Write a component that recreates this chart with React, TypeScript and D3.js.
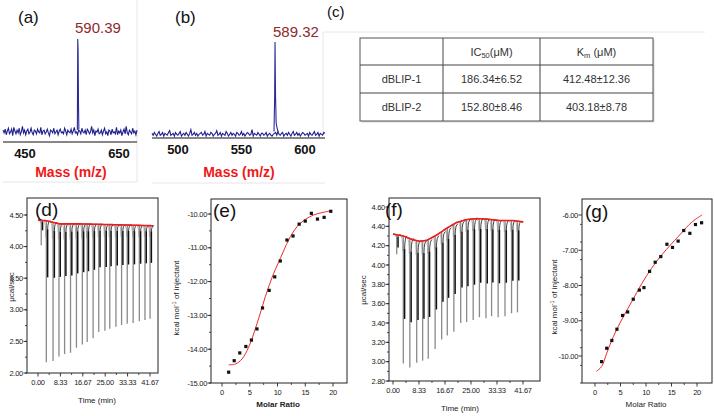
import { useEffect, useRef } from 'react';
import * as d3 from 'd3';

const W = 714;
const H = 416;
const FONT = '"Liberation Sans", Arial, sans-serif';

// ---- (a) mass spectrum: dBLIP-1
const massATicks = [450, 650];
const noiseA = [2, -1, 3, -3, 1, 4, -2, 0, 3, -4, 5, 1, -2, 2, -1, 4, -3, 0, 6, -1, 2, -3, 1, 3, -2, 0, 4, -1, -3, 2, 1, -2, 3, 0, -1, 5, -3, 1, 2, -2, 0, 3, -1, -4, 2, 1, -1, 4, -2, 0, 2, -3, 1, 3, -1, 0, -2, 4, 1, -3, 2, 0, -1, 3, -2, 1, 5, -1, 0, -3, 2, 1, -2, 4, 0, -1, 2, -3, 3, 1, -2, 0, 6, -1, 2, -4, 1, 0, 3, -2, -1, 2, -3, 1, 4, -2, 0, -4, 2, 1, -3, 3, -1, 0, -2, 5, -3, 1, -1, 2, -4, 0, 3, -2, 6, -1, -3, 2, 0, -2, 4, -1, 1, -3, 2];
const peakAMz = [561.4, 562.2, 563.0, 563.8, 564.6];
const peakAInt = [2, 100, 88, 30, 3];
const peakALabel = '590.39';

// ---- (b) mass spectrum: dBLIP-2
const massBTicks = [500, 550, 600];
const noiseB = [1, -1, 2, 0, -2, 1, 3, -1, 0, 2, -2, 1, 0, -1, 2, 4, -1, 0, 1, -2, 2, 0, -1, 1, 3, -2, 0, 1, -1, 2, 0, -2, 1, 5, -1, 0, 2, -1, 1, -2, 0, 1, 2, -1, 0, 3, -2, 1, 0, -1, 2, 1, -2, 0, 1, 4, -1, 0, 2, -2, 1, 0, -1, 3, 1, -2, 0, 2, -1, 1, 0, -2, 2, 1, -1, 0, 3, -1, 1, -2, 0, 2, 1, -1, 0, 5, -2, 1, 0, -1, 2, 0, -2, 1, 1, -1, 0, 2, -2, 0, 1, -1, -2, 0, 1, 2, -1, 3, 0, -1, 1, 2, -2, 0, 1, -1, 2, 0, -2, 1, 3, -1, 0, 2, -1, 1, -2, 0, 2, 1, -1, 0, 1, -2, 2, 0, -1, 1, 3, -1, 0, 2, -2, 1, 0, -1, 2, 1];
const peakBMz = [575.6, 576.1, 576.4, 576.8, 577.3, 578.0, 578.8];
const peakBInt = [3, 40, 100, 42, 12, 7, 3];
const peakBLabel = '589.32';

// ---- (c) table
const tableRows = ['dBLIP-1', 'dBLIP-2'];
const ic50 = ['186.34±6.52', '152.80±8.46'];
const km = ['412.48±12.36', '403.18±8.78'];

// ---- (d) ITC raw heat, dBLIP-1
const timeTicks = [0, 8.33, 16.67, 25, 33.33, 41.67];
const timeLabels = ['0.00', '8.33', '16.67', '25.00', '33.33', '41.67'];
const dTicksY = [2.0, 2.5, 3.0, 3.5, 4.0, 4.5];
const dInjT = [1.2, 3.1, 5.6, 7.8, 9.9, 12.1, 14.3, 16.5, 18.3, 20.5, 22.6, 24.9, 26.7, 29.0, 31.1, 33.2, 35.4, 37.7, 39.8, 41.7];
const dInjMin = [4.02, 2.17, 2.19, 2.26, 2.30, 2.32, 2.40, 2.45, 2.49, 2.55, 2.65, 2.67, 2.70, 2.73, 2.76, 2.78, 2.79, 2.82, 2.84, 2.86];
const dBaseT = [0, 3, 8, 15, 25, 43];
const dBaseV = [4.42, 4.41, 4.36, 4.36, 4.35, 4.33];

// ---- (e) ITC integrated, dBLIP-1
const ratioTicks = [0, 5, 10, 15, 20];
const eTicksY = [-15, -14, -13, -12, -11, -10];
const eX = [1.2, 2.2, 3.2, 4.3, 5.3, 6.3, 7.3, 8.5, 9.5, 10.5, 11.7, 12.8, 13.9, 15.0, 16.1, 17.2, 18.4, 19.6];
const eY = [-14.68, -14.34, -14.11, -13.92, -13.73, -13.40, -12.78, -12.26, -11.86, -11.39, -10.77, -10.65, -10.30, -10.21, -9.98, -10.15, -10.10, -9.92];
const eFitX = [1.2, 2.4, 3.6, 4.8, 6.3, 7.8, 9.3, 10.5, 12.0, 13.5, 15.0, 16.5, 18.0, 19.8];
const eFitY = [-14.46, -14.44, -14.29, -13.94, -13.25, -12.45, -11.76, -11.32, -10.77, -10.38, -10.16, -10.03, -9.96, -9.90];

// ---- (f) ITC raw heat, dBLIP-2
const fTicksY = [2.8, 3.0, 3.2, 3.4, 3.6, 3.8, 4.0, 4.2, 4.4, 4.6];
const fInjT = [1.2, 3.3, 5.4, 7.6, 9.5, 11.3, 13.5, 15.6, 17.4, 19.5, 21.7, 23.6, 25.7, 27.7, 29.8, 31.6, 33.7, 35.9, 38.0, 39.9];
const fInjMin = [4.11, 2.98, 2.94, 2.99, 3.01, 3.03, 3.13, 3.23, 3.27, 3.31, 3.40, 3.41, 3.43, 3.46, 3.45, 3.47, 3.46, 3.47, 3.50, 3.51];
const fBaseT = [0.1, 3.3, 6.5, 8.6, 10.8, 14.0, 17.2, 20.4, 23.6, 26.8, 30.0, 34.3, 38.6, 41.8];
const fBaseV = [4.32, 4.30, 4.26, 4.245, 4.255, 4.31, 4.38, 4.44, 4.47, 4.48, 4.475, 4.46, 4.46, 4.445];

// ---- (g) ITC integrated, dBLIP-2
const gTicksY = [-10, -9, -8, -7, -6];
const gX = [1.3, 2.3, 3.3, 4.3, 5.4, 6.4, 7.5, 8.7, 9.6, 10.7, 11.8, 12.9, 14.1, 15.2, 16.3, 17.4, 18.6, 19.7, 20.9];
const gY = [-10.16, -9.78, -9.56, -9.24, -8.85, -8.75, -8.39, -8.13, -8.06, -7.60, -7.34, -7.18, -6.83, -6.92, -6.74, -6.44, -6.52, -6.27, -6.22];
const gFitX = [0.3, 1.3, 2.3, 3.6, 5.2, 7.2, 9.2, 11.1, 13.1, 14.8, 16.4, 18.4, 19.7, 21.0];
const gFitY = [-10.43, -10.30, -9.92, -9.45, -8.98, -8.46, -7.94, -7.51, -7.13, -6.85, -6.60, -6.28, -6.12, -6.00];

type Sel = d3.Selection<SVGGElement, unknown, null, undefined>;

function label(g: Sel, x: number, y: number, txt: string, size: number) {
  g.append('text').attr('x', x).attr('y', y).attr('font-family', FONT)
    .attr('font-size', size).attr('fill', '#111').text(txt);
}

function drawSpectrum(g: Sel, o: {
  ticks: number[]; tickPx: [number, number]; tickVals: [number, number];
  left: number; right: number; axisY: number; topY: number; intMin: number;
  noise: number[]; peakMz: number[]; peakInt: number[]; peakLabel: string; labelX: number; labelY: number;
  titleX: number;
}) {
  const x = d3.scaleLinear().domain(o.tickVals).range(o.tickPx);
  const y = d3.scaleLinear().domain([o.intMin, 100]).range([o.axisY, o.topY]);
  const m0 = x.invert(o.left);
  const m1 = x.invert(o.right);
  const step = (m1 - m0) / (o.noise.length - 1);
  const line = d3.line<[number, number]>().x(d => x(d[0])).y(d => y(d[1]));
  g.append('path')
    .attr('d', line(o.noise.map((v, i) => [m0 + i * step, v] as [number, number])))
    .attr('fill', 'none').attr('stroke', '#1f1f8f').attr('stroke-width', 1.1);
  g.append('path')
    .attr('d', line(o.peakMz.map((m, i) => [m, o.peakInt[i]] as [number, number])))
    .attr('fill', 'none').attr('stroke', '#2a2a9a').attr('stroke-width', 1.1);
  g.append('line').attr('x1', o.left).attr('x2', o.right).attr('y1', o.axisY).attr('y2', o.axisY)
    .attr('stroke', '#111').attr('stroke-width', 1.2);
  o.ticks.forEach(t => {
    g.append('text').attr('x', x(t)).attr('y', o.axisY + 16).attr('text-anchor', 'middle')
      .attr('font-family', FONT).attr('font-weight', 'bold').attr('font-size', 13).attr('fill', '#111')
      .text(String(t));
  });
  g.append('text').attr('x', o.titleX).attr('y', 177).attr('text-anchor', 'middle')
    .attr('font-family', FONT).attr('font-weight', 'bold').attr('font-size', 14).attr('fill', '#f01818')
    .text('Mass (m/z)');
  g.append('text').attr('x', o.labelX).attr('y', o.labelY)
    .attr('font-family', FONT).attr('font-size', 15).attr('fill', '#8e2a2a').text(o.peakLabel);
}

function drawFrame(g: Sel, o: {
  left: number; right: number; top: number; bottom: number;
  x: d3.ScaleLinear<number, number>; y: d3.ScaleLinear<number, number>;
  xTicks: number[]; xLabels: string[]; yTicks: number[]; yMinorStep: number;
}) {
  g.append('rect').attr('x', o.left).attr('y', o.top).attr('width', o.right - o.left)
    .attr('height', o.bottom - o.top).attr('fill', 'none').attr('stroke', '#222').attr('stroke-width', 1);
  const [y0, y1] = o.y.domain();
  const minors = d3.range(y0, y1 + 1e-6, o.yMinorStep);
  const yTop = o.y.invert(o.top);
  minors.filter(v => v <= yTop).forEach(v => {
    g.append('line').attr('x1', o.left - 2).attr('x2', o.left).attr('y1', o.y(v)).attr('y2', o.y(v))
      .attr('stroke', '#222').attr('stroke-width', 0.8);
  });
  o.yTicks.forEach(v => {
    g.append('line').attr('x1', o.left - 3.5).attr('x2', o.left).attr('y1', o.y(v)).attr('y2', o.y(v))
      .attr('stroke', '#222').attr('stroke-width', 0.9);
    g.append('text').attr('x', o.left - 4).attr('y', o.y(v)).attr('dy', '0.35em').attr('text-anchor', 'end')
      .attr('font-family', FONT).attr('font-size', 7.5).attr('letter-spacing', -0.3).attr('fill', '#222')
      .text(v.toFixed(2));
  });
  o.xTicks.forEach((v, i) => {
    g.append('line').attr('x1', o.x(v)).attr('x2', o.x(v)).attr('y1', o.bottom).attr('y2', o.bottom + 3.5)
      .attr('stroke', '#222').attr('stroke-width', 0.9);
    if (i < o.xTicks.length - 1) {
      const mid = (v + o.xTicks[i + 1]) / 2;
      g.append('line').attr('x1', o.x(mid)).attr('x2', o.x(mid)).attr('y1', o.bottom).attr('y2', o.bottom + 2)
        .attr('stroke', '#222').attr('stroke-width', 0.8);
    }
    g.append('text').attr('x', o.x(v)).attr('y', o.bottom + 12).attr('text-anchor', 'middle')
      .attr('font-family', FONT).attr('font-size', 7.5).attr('letter-spacing', -0.3).attr('fill', '#222')
      .text(o.xLabels[i]);
  });
}

function axisTitle(g: Sel, x: number, y: number, txt: string, rotate: boolean, weight = 'normal') {
  const t = g.append('text').attr('text-anchor', 'middle').attr('font-family', FONT)
    .attr('font-size', 8).attr('font-weight', weight).attr('fill', '#222')
    .attr('transform', rotate ? `translate(${x},${y}) rotate(-90)` : `translate(${x},${y})`);
  t.text(txt);
}

function kcalTitle(g: Sel, x: number, y: number) {
  const t = g.append('text').attr('text-anchor', 'middle').attr('font-family', FONT)
    .attr('font-size', 8).attr('fill', '#222')
    .attr('transform', `translate(${x},${y}) rotate(-90)`);
  t.append('tspan').text('kcal mol');
  t.append('tspan').attr('font-size', 5.5).attr('dy', -3).text('-1');
  t.append('tspan').attr('dy', 3).text(' of injectant');
}

function drawRaw(g: Sel, x: d3.ScaleLinear<number, number>, y: d3.ScaleLinear<number, number>,
  injT: number[], injMin: number[], baseT: number[], baseV: number[], blk: [number, number], tEnd: number) {
  const base = d3.scaleLinear().domain(baseT).range(baseV).clamp(true);
  const line = d3.line<number>().x(t => x(t)).y(t => y(base(t)));
  g.append('path').attr('d', line(d3.range(0, tEnd, 0.25))).attr('fill', 'none')
    .attr('stroke', '#222').attr('stroke-width', 0.8);
  injT.forEach((t, i) => {
    const b = base(t);
    const depth = b - injMin[i];
    const px = x(t);
    g.append('path')
      .attr('d', `M${px - 2.5},${y(b)} Q${px - 0.7},${y(b)} ${px - 0.6},${y(b - 0.12 * depth)}`)
      .attr('fill', 'none').attr('stroke', '#999').attr('stroke-width', 0.7);
    g.append('line').attr('x1', px).attr('x2', px).attr('y1', y(b)).attr('y2', y(injMin[i]))
      .attr('stroke', '#8a8a8a').attr('stroke-width', 1.3);
    g.append('line').attr('x1', px + 1.3).attr('x2', px + 1.3)
      .attr('y1', y(b - blk[0] * depth)).attr('y2', y(b - blk[1] * depth))
      .attr('stroke', '#111').attr('stroke-width', 1.5);
    g.append('path')
      .attr('d', `M${px + 1.3},${y(b - blk[0] * depth)} Q${px + 1.6},${y(b)} ${px + 4},${y(b)}`)
      .attr('fill', 'none').attr('stroke', '#111').attr('stroke-width', 0.8);
  });
  g.append('path').attr('d', line(d3.range(0, tEnd, 0.25))).attr('fill', 'none')
    .attr('stroke', '#ee1c1c').attr('stroke-width', 1.6);
}

function drawFit(g: Sel, x: d3.ScaleLinear<number, number>, y: d3.ScaleLinear<number, number>,
  px: number[], py: number[], fx: number[], fy: number[]) {
  const line = d3.line<number>().x(d => x(d)).y((_, i) => y(fy[i])).curve(d3.curveCatmullRom);
  g.append('path').attr('d', line(fx)).attr('fill', 'none').attr('stroke', '#ee2a2a').attr('stroke-width', 1);
  px.forEach((v, i) => {
    g.append('rect').attr('x', x(v) - 1.6).attr('y', y(py[i]) - 1.6).attr('width', 3.2).attr('height', 3.2)
      .attr('fill', '#111');
  });
}

export default function App() {
  const ref = useRef<SVGSVGElement>(null);

  useEffect(() => {
    if (!ref.current) return;
    const svg = d3.select(ref.current);
    svg.selectAll('*').remove();
    const root = svg.append('g') as unknown as Sel;
    root.append('rect').attr('width', W).attr('height', H).attr('fill', '#fff');

    // faint panel borders from the source figure
    const faint = [[137, 0, 137, 182], [3, 182, 137, 182], [152, 183, 325, 183], [323, 32, 323, 135], [323, 32, 705, 32]];
    faint.forEach(([x1, y1, x2, y2]) => {
      root.append('line').attr('x1', x1).attr('y1', y1).attr('x2', x2).attr('y2', y2)
        .attr('stroke', '#e6e6e6').attr('stroke-width', 1);
    });

    // (a)
    drawSpectrum(root, {
      ticks: massATicks, tickVals: [450, 650], tickPx: [25, 119], left: 3, right: 137,
      axisY: 142, topY: 39, intMin: -10.8, noise: noiseA, peakMz: peakAMz, peakInt: peakAInt,
      peakLabel: peakALabel, labelX: 75, labelY: 33, titleX: 71,
    });
    label(root, 18, 23, '(a)', 17);

    // (b)
    drawSpectrum(root, {
      ticks: massBTicks, tickVals: [500, 600], tickPx: [178, 305], left: 152, right: 325,
      axisY: 138, topY: 42, intMin: -4, noise: noiseB, peakMz: peakBMz, peakInt: peakBInt,
      peakLabel: peakBLabel, labelX: 273, labelY: 37, titleX: 239,
    });
    label(root, 175, 23, '(b)', 17);

    // (c) table
    label(root, 327, 17, '(c)', 15);
    const colX = [360, 443, 540, 653];
    const rowY = [38, 65, 93, 121];
    root.append('rect').attr('x', colX[0] + 1.5).attr('y', rowY[0] + 1.5).attr('width', colX[3] - colX[0])
      .attr('height', rowY[3] - rowY[0]).attr('fill', '#d8d8d8');
    root.append('rect').attr('x', colX[0]).attr('y', rowY[0]).attr('width', colX[3] - colX[0])
      .attr('height', rowY[3] - rowY[0]).attr('fill', '#fff').attr('stroke', '#555').attr('stroke-width', 1);
    [colX[1], colX[2]].forEach(cx => {
      root.append('line').attr('x1', cx).attr('x2', cx).attr('y1', rowY[0]).attr('y2', rowY[3])
        .attr('stroke', '#444').attr('stroke-width', 1);
    });
    [rowY[1], rowY[2]].forEach(ry => {
      root.append('line').attr('x1', colX[0]).attr('x2', colX[3]).attr('y1', ry).attr('y2', ry)
        .attr('stroke', '#444').attr('stroke-width', 1);
    });
    const cellText = (cx: number, cy: number) => root.append('text').attr('x', cx).attr('y', cy)
      .attr('text-anchor', 'middle').attr('font-family', FONT).attr('font-size', 11).attr('fill', '#333');
    const h1 = cellText((colX[1] + colX[2]) / 2, 56);
    h1.append('tspan').text('IC');
    h1.append('tspan').attr('font-size', 7.5).attr('dy', 2).text('50');
    h1.append('tspan').attr('dy', -2).text('(μM)');
    const h2 = cellText((colX[2] + colX[3]) / 2, 56);
    h2.append('tspan').text('K');
    h2.append('tspan').attr('font-size', 7.5).attr('dy', 2).text('m');
    h2.append('tspan').attr('dy', -2).text(' (μM)');
    tableRows.forEach((r, i) => {
      const cy = (rowY[i + 1] + rowY[i + 2]) / 2 + 4;
      cellText((colX[0] + colX[1]) / 2, cy).text(r);
      cellText((colX[1] + colX[2]) / 2, cy).text(ic50[i]);
      cellText((colX[2] + colX[3]) / 2, cy).text(km[i]);
    });

    // (d)
    const dx = d3.scaleLinear().domain([0, 41.67]).range([38, 150]);
    const dy = d3.scaleLinear().domain([2, 4.5]).range([373, 215]);
    drawFrame(root, { left: 27, right: 158, top: 198, bottom: 373, x: dx, y: dy,
      xTicks: timeTicks, xLabels: timeLabels, yTicks: dTicksY, yMinorStep: 0.25 });
    drawRaw(root, dx, dy, dInjT, dInjMin, dBaseT, dBaseV, [0.06, 0.4], 43);
    label(root, 35, 216, '(d)', 19);
    axisTitle(root, 97, 403, 'Time (min)', false);
    axisTitle(root, 14, 287, 'μcal/sec', true);

    // (e)
    const ex = d3.scaleLinear().domain([0, 20]).range([222, 333]);
    const ey = d3.scaleLinear().domain([-15, -10]).range([383, 214]);
    drawFrame(root, { left: 211, right: 347, top: 199, bottom: 383, x: ex, y: ey,
      xTicks: ratioTicks, xLabels: ratioTicks.map(String), yTicks: eTicksY, yMinorStep: 0.5 });
    drawFit(root, ex, ey, eX, eY, eFitX, eFitY);
    label(root, 213, 217, '(e)', 19);
    axisTitle(root, 278, 407, 'Molar Ratio', false, 'bold');
    kcalTitle(root, 179, 298);

    // (f)
    const fx = d3.scaleLinear().domain([0, 41.67]).range([393, 523]);
    const fy = d3.scaleLinear().domain([2.8, 4.6]).range([381, 207]);
    drawFrame(root, { left: 389, right: 540, top: 198, bottom: 381, x: fx, y: fy,
      xTicks: timeTicks, xLabels: timeLabels, yTicks: fTicksY, yMinorStep: 0.1 });
    drawRaw(root, fx, fy, fInjT, fInjMin, fBaseT, fBaseV, [0.1, 0.65], 41.8);
    label(root, 385, 216, '(f)', 19);
    axisTitle(root, 460, 411, 'Time (min)', false);
    axisTitle(root, 366, 290, 'μcal/sec', true);

    // (g)
    const gx = d3.scaleLinear().domain([0, 20]).range([595, 697]);
    const gy = d3.scaleLinear().domain([-10, -6]).range([356, 215]);
    gy.domain([gy.invert(383), -6]).range([383, 215]);
    drawFrame(root, { left: 582, right: 712, top: 199, bottom: 383, x: gx, y: gy,
      xTicks: ratioTicks, xLabels: ratioTicks.map(String), yTicks: gTicksY, yMinorStep: 0.5 });
    drawFit(root, gx, gy, gX, gY, gFitX, gFitY);
    label(root, 585, 218, '(g)', 19);
    axisTitle(root, 646, 407, 'Molar Ratio', false);
    kcalTitle(root, 557, 297);
  }, []);

  return <svg ref={ref} width={W} height={H} style={{ position: 'absolute', left: 0, top: 0 }} />;
}
